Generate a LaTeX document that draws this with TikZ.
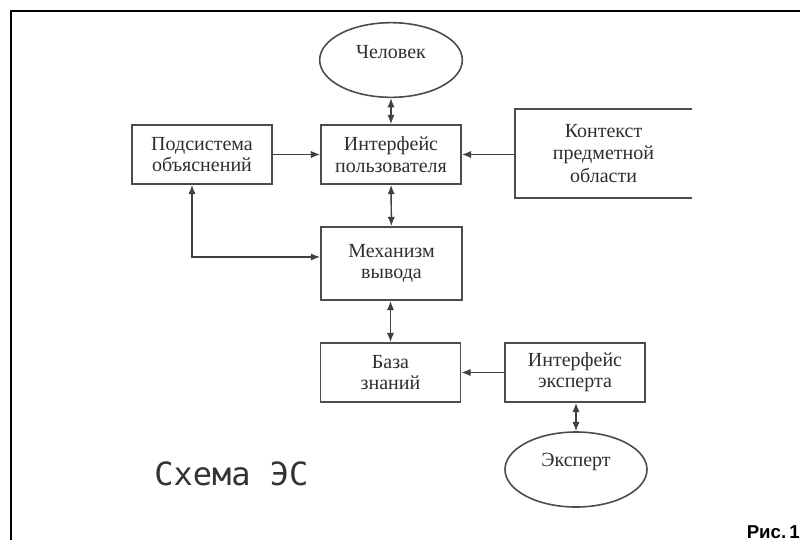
\documentclass[tikz,border=0pt]{standalone}
\usepackage{fontspec}
\setmainfont{Liberation Serif}
\newfontfamily\monofont{DejaVu Sans Mono}
\newfontfamily\labelfont{Liberation Sans}
\usepackage{tikz}
\usetikzlibrary{shapes,arrows.meta,calc,positioning}
\tikzstyle{arrow} = [line width=1.1pt, draw=black!75, ->, >={Latex[length=7pt,width=5.5pt]}]
\tikzstyle{biarrow} = [line width=1.1pt, draw=black!75, <->, >={Latex[length=7pt,width=5.5pt]}]
\definecolor{inkgray}{HTML}{2E2E2E}

\begin{document}
\begin{tikzpicture}[x=0.75pt,y=-0.75pt]
\tikzset{block/.style={draw=black!70,line width=1.3pt,minimum width=105pt,minimum height=44.25pt,align=center,text=inkgray,font=\fontsize{15}{16}\selectfont},
person/.style={ellipse,draw=black!70,line width=1.2pt,minimum width=107pt,minimum height=56pt},
caption/.style={text=inkgray,font=\fontsize{15}{16}\selectfont}}
\useasboundingbox (0,0) rectangle (800,540);
\draw[line width=1.6pt] (11,540) -- (11,11) -- (800,11);

\node[person] (human) at (391,60){};
\node[caption] (humantext) at (391,52){Человек};
\node[block] (ui) at (391,154.5){Интерфейс\\пользователя};
\node[block] (podsys) at (202,154.5){Подсистема\\объяснений};
\node[minimum width=132.75pt,minimum height=66.75pt,inner sep=0pt,align=center,text=inkgray,font=\fontsize{15}{17}\selectfont] (ctx) at (603.5,153.5){Контекст\\предметной\\области};
\draw[draw=black!70,line width=1.3pt] (ctx.north east) -- (ctx.north west) -- (ctx.south west) -- (ctx.south east);
\node[block,minimum width=105.75pt,minimum height=54.75pt] (mech) at (391.5,263.5){Механизм\\вывода};
\node[block] (kb) at (390.5,372.5){База\\знаний};
\node[block] (eui) at (575,372.5){Интерфейс\\эксперта};
\node[person,minimum width=106.5pt,minimum height=56.25pt] (expert) at (576,469.5){};
\node[caption] (experttext) at (576,462){Эксперт};

\draw[biarrow] (human) -- (ui);
\draw[arrow] (podsys) -- (ui);
\draw[arrow] (ctx.west |- ui.east) -- (ui.east);
\draw[biarrow] (ui) -- (mech);
\draw[biarrow] ([xshift=-7.5pt]podsys.south) |- (mech.west |- 0,257);
\draw[biarrow] (mech.south -| kb.north) -- (kb.north);
\draw[arrow] (eui) -- (kb);
\draw[biarrow] (eui.south -| expert.north) -- (expert.north);

\node[anchor=base west,inner sep=0pt,text=black!80,font=\monofont\fontsize{24}{28}\selectfont] (title) at (154,485){Схема ЭС};
\node[anchor=base east,inner sep=0pt,font=\labelfont\bfseries\fontsize{14}{16}\selectfont] (fig) at (800,538){Рис.\,1};
\end{tikzpicture}
\end{document}
